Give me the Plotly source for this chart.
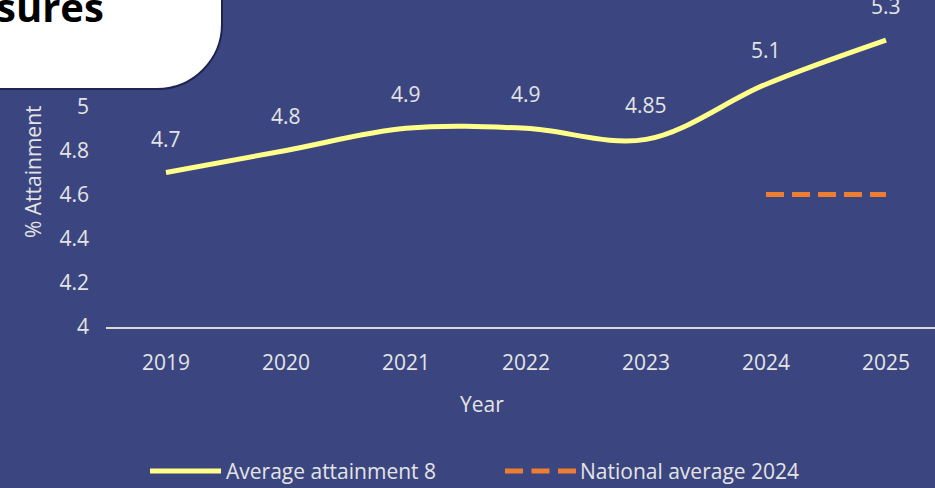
import plotly.graph_objects as go

years = [2019, 2020, 2021, 2022, 2023, 2024, 2025]
attainment = [4.7, 4.8, 4.9, 4.9, 4.85, 5.1, 5.3]
attainment_labels = ["4.7", "4.8", "4.9", "4.9", "4.85", "5.1", "5.3"]
national_years = [2024, 2025]
national_avg = [4.6, 4.6]
series_names = ["Average attainment 8", "National average 2024"]
y_ticks = [4, 4.2, 4.4, 4.6, 4.8, 5]
y_ticktext = ["4", "4.2", "4.4", "4.6", "4.8", "5"]

BG = "#3b4681"
YELLOW = "#ffff8a"
ORANGE = "#ed7d31"
TXT = "#e4e4e4"
FONT = "Open Sans"
FS = 21

W, H = 935, 488
L, R, T, B = 106, 0, 18, 161
PW = W - L - R
PH = H - T - B


def px_x(p):
    return (p - L) / PW


def px_y(p):
    return (H - B - p) / PH


fig = go.Figure()
fig.add_trace(go.Scatter(
    x=years, y=attainment, mode="lines", name=series_names[0],
    line=dict(color=YELLOW, width=5, shape="spline", smoothing=1.0),
    showlegend=False, hoverinfo="skip"))
fig.add_trace(go.Scatter(
    x=national_years, y=national_avg, mode="lines", name=series_names[1],
    line=dict(color=ORANGE, width=5, dash="18px,8px"),
    showlegend=False, hoverinfo="skip"))

annotations = []
for xv, yv, lab in zip(years, attainment, attainment_labels):
    annotations.append(dict(x=xv, y=yv, xref="x", yref="y", text=lab,
                            showarrow=False, yshift=34,
                            xanchor="center", yanchor="middle",
                            font=dict(family=FONT, size=FS, color=TXT)))

# axis titles
annotations.append(dict(x=px_x(33), y=px_y(172), xref="paper", yref="paper",
                        text="% Attainment", textangle=-90, showarrow=False,
                        xanchor="center", yanchor="middle",
                        font=dict(family=FONT, size=FS, color=TXT)))
annotations.append(dict(x=px_x(482), y=px_y(404), xref="paper", yref="paper",
                        text="Year", showarrow=False,
                        xanchor="center", yanchor="middle",
                        font=dict(family=FONT, size=FS, color=TXT)))

# legend (custom)
ly = px_y(471)
annotations.append(dict(x=px_x(224), y=ly, xref="paper", yref="paper",
                        text=series_names[0], showarrow=False,
                        xanchor="left", yanchor="middle",
                        font=dict(family=FONT, size=FS, color=TXT)))
annotations.append(dict(x=px_x(578), y=ly, xref="paper", yref="paper",
                        text=series_names[1], showarrow=False,
                        xanchor="left", yanchor="middle",
                        font=dict(family=FONT, size=FS, color=TXT)))

# title box text
annotations.append(dict(x=px_x(-6), y=px_y(36), xref="paper", yref="paper",
                        text="<b>sures</b>", showarrow=False, xanchor="left",
                        yanchor="bottom",
                        font=dict(family=FONT, size=40, color="#000000")))

shapes = []
# legend samples
shapes.append(dict(type="line", xref="paper", yref="paper",
                   x0=px_x(150), x1=px_x(221), y0=ly, y1=ly,
                   line=dict(color=YELLOW, width=5)))
shapes.append(dict(type="line", xref="paper", yref="paper",
                   x0=px_x(505), x1=px_x(576), y0=ly, y1=ly,
                   line=dict(color=ORANGE, width=5, dash="18px,8.5px")))

# rounded white box at top-left
r = 65
path = "M {:.5f},{:.5f} L {:.5f},{:.5f} L {:.5f},{:.5f} ".format(
    px_x(-20), px_y(-20), px_x(222), px_y(-20), px_x(222), px_y(89 - r))
path += "C {:.5f},{:.5f} {:.5f},{:.5f} {:.5f},{:.5f} ".format(
    px_x(222), px_y(89 - r + 0.552 * r), px_x(222 - r + 0.552 * r), px_y(89),
    px_x(222 - r), px_y(89))
path += "L {:.5f},{:.5f} Z".format(px_x(-20), px_y(89))
shapes.append(dict(type="path", xref="paper", yref="paper", path=path,
                   fillcolor="#ffffff", line=dict(color="#1c2550", width=2),
                   layer="above"))

fig.update_layout(
    width=W, height=H,
    margin=dict(l=L, r=R, t=T, b=B),
    paper_bgcolor=BG, plot_bgcolor=BG,
    showlegend=False,
    annotations=annotations,
    shapes=shapes,
    xaxis=dict(range=[2018.5, 2018.5 + PW / 120.0], tickvals=years,
               ticktext=[str(y) for y in years], showgrid=False,
               zeroline=False, showline=True, linecolor="#d9d9d9",
               linewidth=2, ticks="", ticklabelstandoff=16,
               tickfont=dict(family=FONT, size=FS, color=TXT)),
    yaxis=dict(range=[4, 5.4], tickvals=y_ticks, ticktext=y_ticktext,
               showgrid=False, zeroline=False, showline=False, ticks="",
               ticklabelstandoff=16,
               tickfont=dict(family=FONT, size=FS, color=TXT)),
)

fig.write_html("out.html", config={"displayModeBar": False})

with open("out.html", "r", encoding="utf-8") as f:
    html = f.read()
html = html.replace("<head>", "<head><style>html,body{margin:0;padding:0;overflow:hidden;}</style>", 1)
with open("out.html", "w", encoding="utf-8") as f:
    f.write(html)
